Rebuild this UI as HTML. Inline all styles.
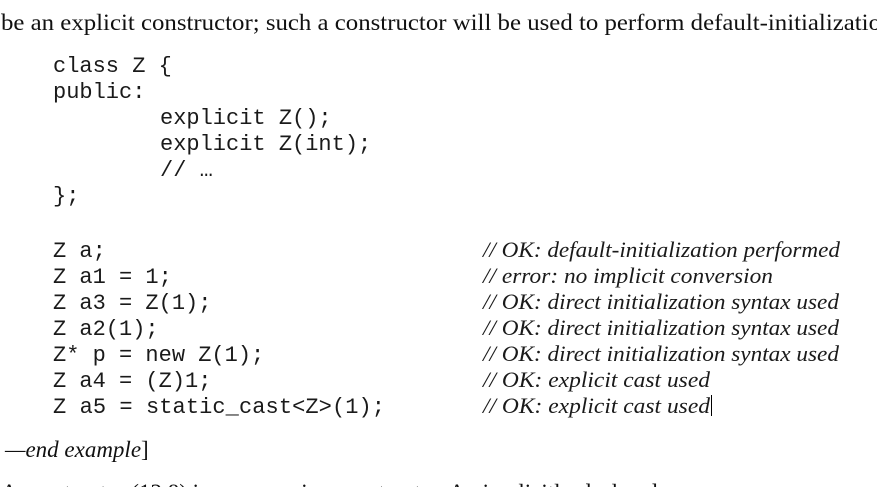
<!DOCTYPE html>
<html><head><meta charset="utf-8"><style>
html,body{margin:0;padding:0;background:#fff;width:877px;height:487px;overflow:hidden}
svg{display:block}
.m{font-family:"Liberation Mono",monospace;font-size:22px;fill:#1a1a1a}
.c{font-family:"Liberation Serif",serif;font-style:italic;font-size:22px;fill:#1a1a1a}
.s{font-family:"Liberation Serif",serif;font-size:23px;fill:#111}
</style></head><body>
<svg width="877" height="487" xmlns="http://www.w3.org/2000/svg">
<text class="s" x="1" y="30" textLength="880" lengthAdjust="spacingAndGlyphs">be an explicit constructor; such a constructor will be used to perform default-initializatio</text>
<text class="m" x="53" y="72">class Z {</text>
<text class="m" x="53" y="98">public:</text>
<text class="m" x="160" y="124">explicit Z();</text>
<text class="m" x="160" y="150">explicit Z(int);</text>
<text class="m" x="160" y="176">// …</text>
<text class="m" x="53" y="202">};</text>
<text class="m" x="53" y="257">Z a;</text>
<text class="m" x="53" y="283">Z a1 = 1;</text>
<text class="m" x="53" y="309">Z a3 = Z(1);</text>
<text class="m" x="53" y="335">Z a2(1);</text>
<text class="m" x="53" y="361">Z* p = new Z(1);</text>
<text class="m" x="53" y="387">Z a4 = (Z)1;</text>
<text class="m" x="53" y="413" textLength="332">Z a5 = static_cast&lt;Z&gt;(1);</text>
<text class="c" x="483" y="257" textLength="357" lengthAdjust="spacingAndGlyphs">// OK: default-initialization performed</text>
<text class="c" x="483" y="283" textLength="290" lengthAdjust="spacingAndGlyphs">// error: no implicit conversion</text>
<text class="c" x="483" y="309" textLength="356" lengthAdjust="spacingAndGlyphs">// OK: direct initialization syntax used</text>
<text class="c" x="483" y="335" textLength="356" lengthAdjust="spacingAndGlyphs">// OK: direct initialization syntax used</text>
<text class="c" x="483" y="361" textLength="356" lengthAdjust="spacingAndGlyphs">// OK: direct initialization syntax used</text>
<text class="c" x="483" y="387" textLength="227" lengthAdjust="spacingAndGlyphs">// OK: explicit cast used</text>
<text class="c" x="483" y="413" textLength="227" lengthAdjust="spacingAndGlyphs">// OK: explicit cast used</text>
<line x1="711.5" y1="395" x2="711.5" y2="416" stroke="#000" stroke-width="1"/>
<text class="s" x="5" y="457" style="font-style:italic">—end example<tspan style="font-style:normal">]</tspan></text>
<text class="s" x="1" y="500">A    constructor  (12.8) is a conversion constructor. An implicitly-declared</text>
</svg>
</body></html>
